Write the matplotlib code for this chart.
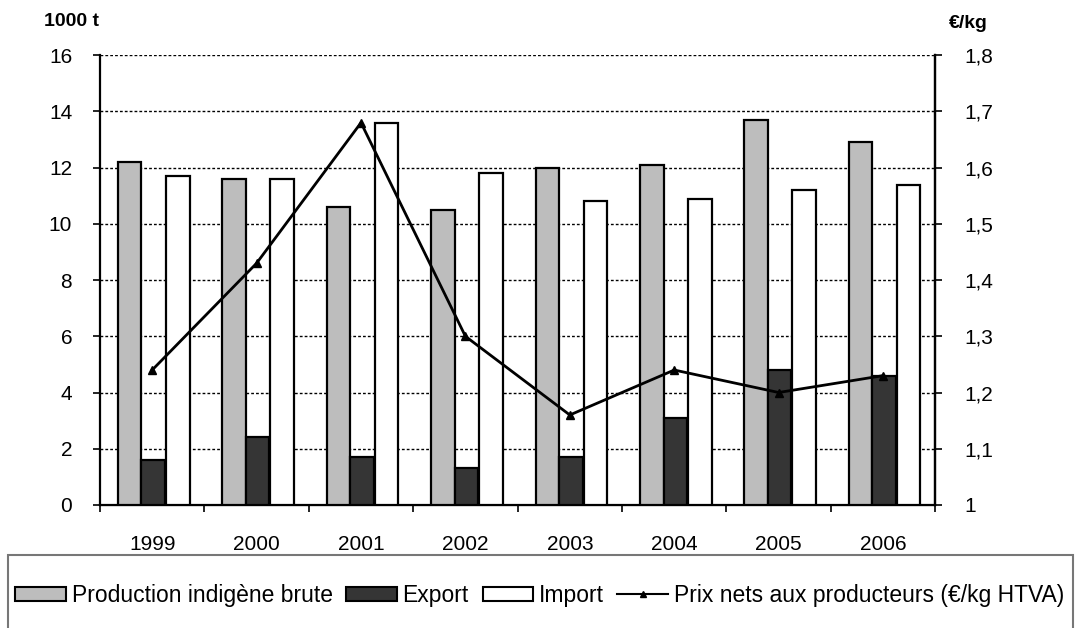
import matplotlib
matplotlib.use("Agg")
import matplotlib.pyplot as plt
import numpy as np
from matplotlib.patches import Rectangle
from matplotlib.lines import Line2D

years = ["1999", "2000", "2001", "2002", "2003", "2004", "2005", "2006"]
production = [12.2, 11.6, 10.6, 10.5, 12.0, 12.1, 13.7, 12.9]
export = [1.6, 2.4, 1.7, 1.3, 1.7, 3.1, 4.8, 4.6]
imports = [11.7, 11.6, 13.6, 11.8, 10.8, 10.9, 11.2, 11.4]
price = [1.24, 1.43, 1.68, 1.30, 1.16, 1.24, 1.20, 1.23]

left_ticks = [0, 2, 4, 6, 8, 10, 12, 14, 16]
right_ticks = [1.0, 1.1, 1.2, 1.3, 1.4, 1.5, 1.6, 1.7, 1.8]
right_labels = ["1", "1,1", "1,2", "1,3", "1,4", "1,5", "1,6", "1,7", "1,8"]

plt.rcParams['font.family'] = ['Liberation Sans', 'DejaVu Sans']

fig = plt.figure(figsize=(10.75, 6.28), dpi=100)
ax = fig.add_axes([0.093, 0.196, 0.777, 0.716])

x = np.arange(len(years))
w = 0.225
ax.bar(x - 0.215, production, width=w, color='#bdbdbd', edgecolor='black', linewidth=1.6, zorder=3)
ax.bar(x + 0.01, export, width=w, color='#353535', edgecolor='black', linewidth=1.6, zorder=3)
ax.bar(x + 0.245, imports, width=w, color='white', edgecolor='black', linewidth=1.6, zorder=3)

ax.set_xlim(-0.5, len(years) - 0.5)
ax.set_ylim(0, 16)
ax.set_yticks(left_ticks)
ax.set_yticklabels([str(t) for t in left_ticks], fontsize=15)
ax.yaxis.grid(True, color='black', linestyle=(0, (2, 1.5)), linewidth=1.0, zorder=0)
ax.set_axisbelow(True)

ax.set_xticks(np.arange(len(years) + 1) - 0.5)
ax.set_xticklabels([])
ax.set_xticks(x, minor=True)
ax.set_xticklabels(years, minor=True, fontsize=15)
ax.tick_params(axis='x', which='minor', length=0, pad=22)
ax.tick_params(axis='x', which='major', length=5, width=1.2, direction='out')
ax.tick_params(axis='y', length=5, width=1.2, pad=15)

ax.spines['top'].set_visible(False)
for s in ['left', 'right', 'bottom']:
    ax.spines[s].set_linewidth(1.6)

ax2 = ax.twinx()
ax2.plot(x, price, color='black', linewidth=2, marker='^', markersize=6, zorder=5)
ax2.set_ylim(1.0, 1.8)
ax2.set_yticks(right_ticks)
ax2.set_yticklabels(right_labels, fontsize=15)
ax2.tick_params(axis='y', length=5, width=1.2, pad=16)
ax2.spines['top'].set_visible(False)
ax2.spines['right'].set_linewidth(1.6)
ax2.spines['left'].set_visible(False)

fig.text(0.041, 0.965, "1000 t", fontsize=14, fontweight='bold', ha='left', va='center')
fig.text(0.883, 0.963, "€/kg", fontsize=14, fontweight='bold', ha='left', va='center')

# legend box
box = Rectangle((0.007, -0.02), 0.991, 0.137, transform=fig.transFigure,
                facecolor='white', edgecolor='#777777', linewidth=1.5)
fig.patches.append(box)

handles = [
    Rectangle((0, 0), 1, 1, facecolor='#bdbdbd', edgecolor='black', linewidth=1.5),
    Rectangle((0, 0), 1, 1, facecolor='#353535', edgecolor='black', linewidth=1.5),
    Rectangle((0, 0), 1, 1, facecolor='white', edgecolor='black', linewidth=1.5),
    Line2D([0], [0], color='black', linewidth=1.5, marker='^', markersize=4),
]
labels = ["Production indigène brute", "Export", "Import",
          "Prix nets aux producteurs (€/kg HTVA)"]
fig.legend(handles, labels, loc='center', bbox_to_anchor=(0.502, 0.052), ncol=4,
           frameon=False, fontsize=16.5, handlelength=2.2, handleheight=0.55,
           handletextpad=0.25, columnspacing=0.6, borderpad=0, borderaxespad=0)

fig.savefig("out.png", dpi=100)
